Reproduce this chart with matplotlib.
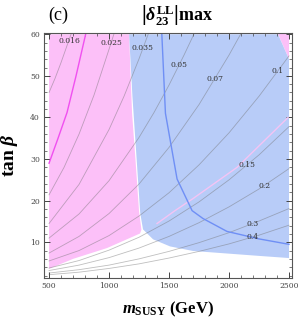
import matplotlib
matplotlib.use('Agg')
import matplotlib.pyplot as plt

plt.rcParams['mathtext.fontset'] = 'custom'
plt.rcParams['mathtext.rm'] = 'Liberation Serif:bold'
plt.rcParams['mathtext.bf'] = 'Liberation Serif:bold'
plt.rcParams['mathtext.it'] = 'Liberation Serif:italic:bold'

# contour lines of |delta_23^LL|max as (m_SUSY, tan beta)
m_grid = [500, 750, 1000, 1250, 1500, 1750, 2000, 2250, 2500]
c016_m = [500, 550, 600, 683]
c016_t = [46.0, 49.4, 53.2, 60.0]
c025_m = [500, 625, 750, 875, 1000, 1040]
c025_t = [21.4, 28.0, 36.0, 45.4, 56.4, 60.0]
c035_m = [500, 750, 1000, 1125, 1250, 1326]
c035_t = [14.5, 23.9, 37.1, 45.1, 54.1, 60.0]
c05_m = [500, 750, 1000, 1250, 1375, 1500, 1625, 1707]
c05_t = [11.0, 16.8, 24.8, 35.2, 41.2, 47.8, 55.0, 60.0]
c07_m = [500, 750, 1000, 1250, 1500, 1750, 2000, 2096]
c07_t = [7.4, 11.4, 16.9, 24.0, 32.8, 43.1, 55.0, 60.0]
c1_t = [5.5, 8.0, 11.6, 16.3, 21.9, 28.6, 36.3, 45.1, 54.8]
c15_t = [3.8, 5.6, 8.1, 11.2, 15.1, 19.7, 25.0, 31.0, 37.8]
c2_t = [3.2, 4.5, 6.3, 8.6, 11.4, 14.7, 18.5, 22.8, 27.7]
c3_t = [2.6, 3.4, 4.5, 6.0, 7.8, 9.9, 12.3, 15.1, 18.1]
c4_t = [2.2, 2.8, 3.7, 4.8, 6.2, 7.8, 9.6, 11.7, 14.1]

contours = [(c016_m, c016_t), (c025_m, c025_t), (c035_m, c035_t),
            (c05_m, c05_t), (c07_m, c07_t), (m_grid, c1_t), (m_grid, c15_t),
            (m_grid, c2_t), (m_grid, c3_t), (m_grid, c4_t)]

label_text = ['0.016', '0.025', '0.035', '0.05', '0.07', '0.1',
              '0.15', '0.2', '0.3', '0.4']
label_m = [667, 1017, 1283, 1583, 1883, 2408, 2150, 2292, 2200, 2192]
label_t = [58.3, 57.9, 56.7, 52.6, 49.3, 51.2, 28.6, 23.6, 14.5, 11.2]

# allowed regions
pink_m = [500, 1167, 1180, 1192, 1220, 1250, 1270, 1258, 983, 700, 500]
pink_t = [60, 60, 50, 41, 30, 17.4, 13.0, 12.1, 8.6, 6.0, 3.6]
pink2_m = [2408, 2500, 2500]
pink2_t = [60, 60, 54]
blue_m = [1167, 2408, 2500, 2500, 2258, 1700, 1508, 1367, 1283, 1260, 1230, 1195]
blue_t = [60, 60, 54, 6.2, 6.7, 7.9, 9.0, 10.7, 13.1, 17.0, 30.0, 45.0]

# boundary lines
mag_m = [500, 575, 650, 725, 805]
mag_t = [29.0, 35.0, 41.2, 50.0, 60.0]
bline_m = [1440, 1470, 1508, 1567, 1692, 1783, 1983, 2250, 2500]
bline_t = [60.0, 41.0, 34.8, 25.2, 17.6, 15.7, 12.6, 10.8, 9.5]
pline_m = [1400, 1550, 1700, 2067, 2492]
pline_t = [14.5, 17.6, 20.5, 28.0, 40.0]

fig = plt.figure(figsize=(3.0, 3.25), dpi=100)
ax = fig.add_axes([0.1467, 0.1446, 0.8267, 0.7538])

ax.fill(pink_m, pink_t, color='#fcc0f8', lw=0)
ax.fill(pink2_m, pink2_t, color='#fcc0f8', lw=0)
ax.fill(blue_m, blue_t, color='#b8ccf8', lw=0)

for cm, ct in contours:
    ax.plot(cm, ct, color='#707070', lw=0.6, alpha=0.45)

ax.plot(pline_m, pline_t, color='#f4c4f4', lw=1.0)
ax.plot(mag_m, mag_t, color='#f050f0', lw=1.0)
ax.plot(bline_m, bline_t, color='#6f8ff5', lw=1.0)

for s, xm, yt in zip(label_text, label_m, label_t):
    ax.text(xm, yt, s, fontsize=5.5, family='DejaVu Serif', color='#333333',
            ha='center', va='center')

ax.set_xlim(458, 2525)
ax.set_ylim(1.4, 60.3)
ax.set_xticks([500, 1000, 1500, 2000, 2500])
ax.set_xticks(range(500, 2501, 100), minor=True)
ax.set_yticks([10, 20, 30, 40, 50, 60])
ax.set_yticks(range(2, 61, 2), minor=True)
ax.tick_params(which='both', direction='in', top=True, right=True,
               labelsize=5.5, labelcolor='#444444', color='#444444', pad=3)
ax.tick_params(which='major', length=4, width=0.7)
ax.tick_params(which='minor', length=2, width=0.5)
for lab in ax.get_xticklabels() + ax.get_yticklabels():
    lab.set_family('DejaVu Serif')
for sp in ax.spines.values():
    sp.set_color('#555555')
    sp.set_linewidth(0.8)

ax.set_xlabel(r'$m_{\mathrm{SUSY}}$ (GeV)', fontsize=12, family='Liberation Serif',
              fontweight='bold', labelpad=7)
ax.set_ylabel(r'tan $\beta$', fontsize=14, family='Liberation Serif',
              fontweight='bold', labelpad=7)
fig.text(0.59, 0.952, r'$\left|\delta^{\mathrm{LL}}_{\mathrm{23}}\right|\mathrm{max}$',
         fontsize=13, ha='center', va='center')
fig.text(0.195, 0.952, '(c)', fontsize=13, family='Liberation Serif',
         ha='center', va='center')

fig.savefig('out.png', dpi=100)
